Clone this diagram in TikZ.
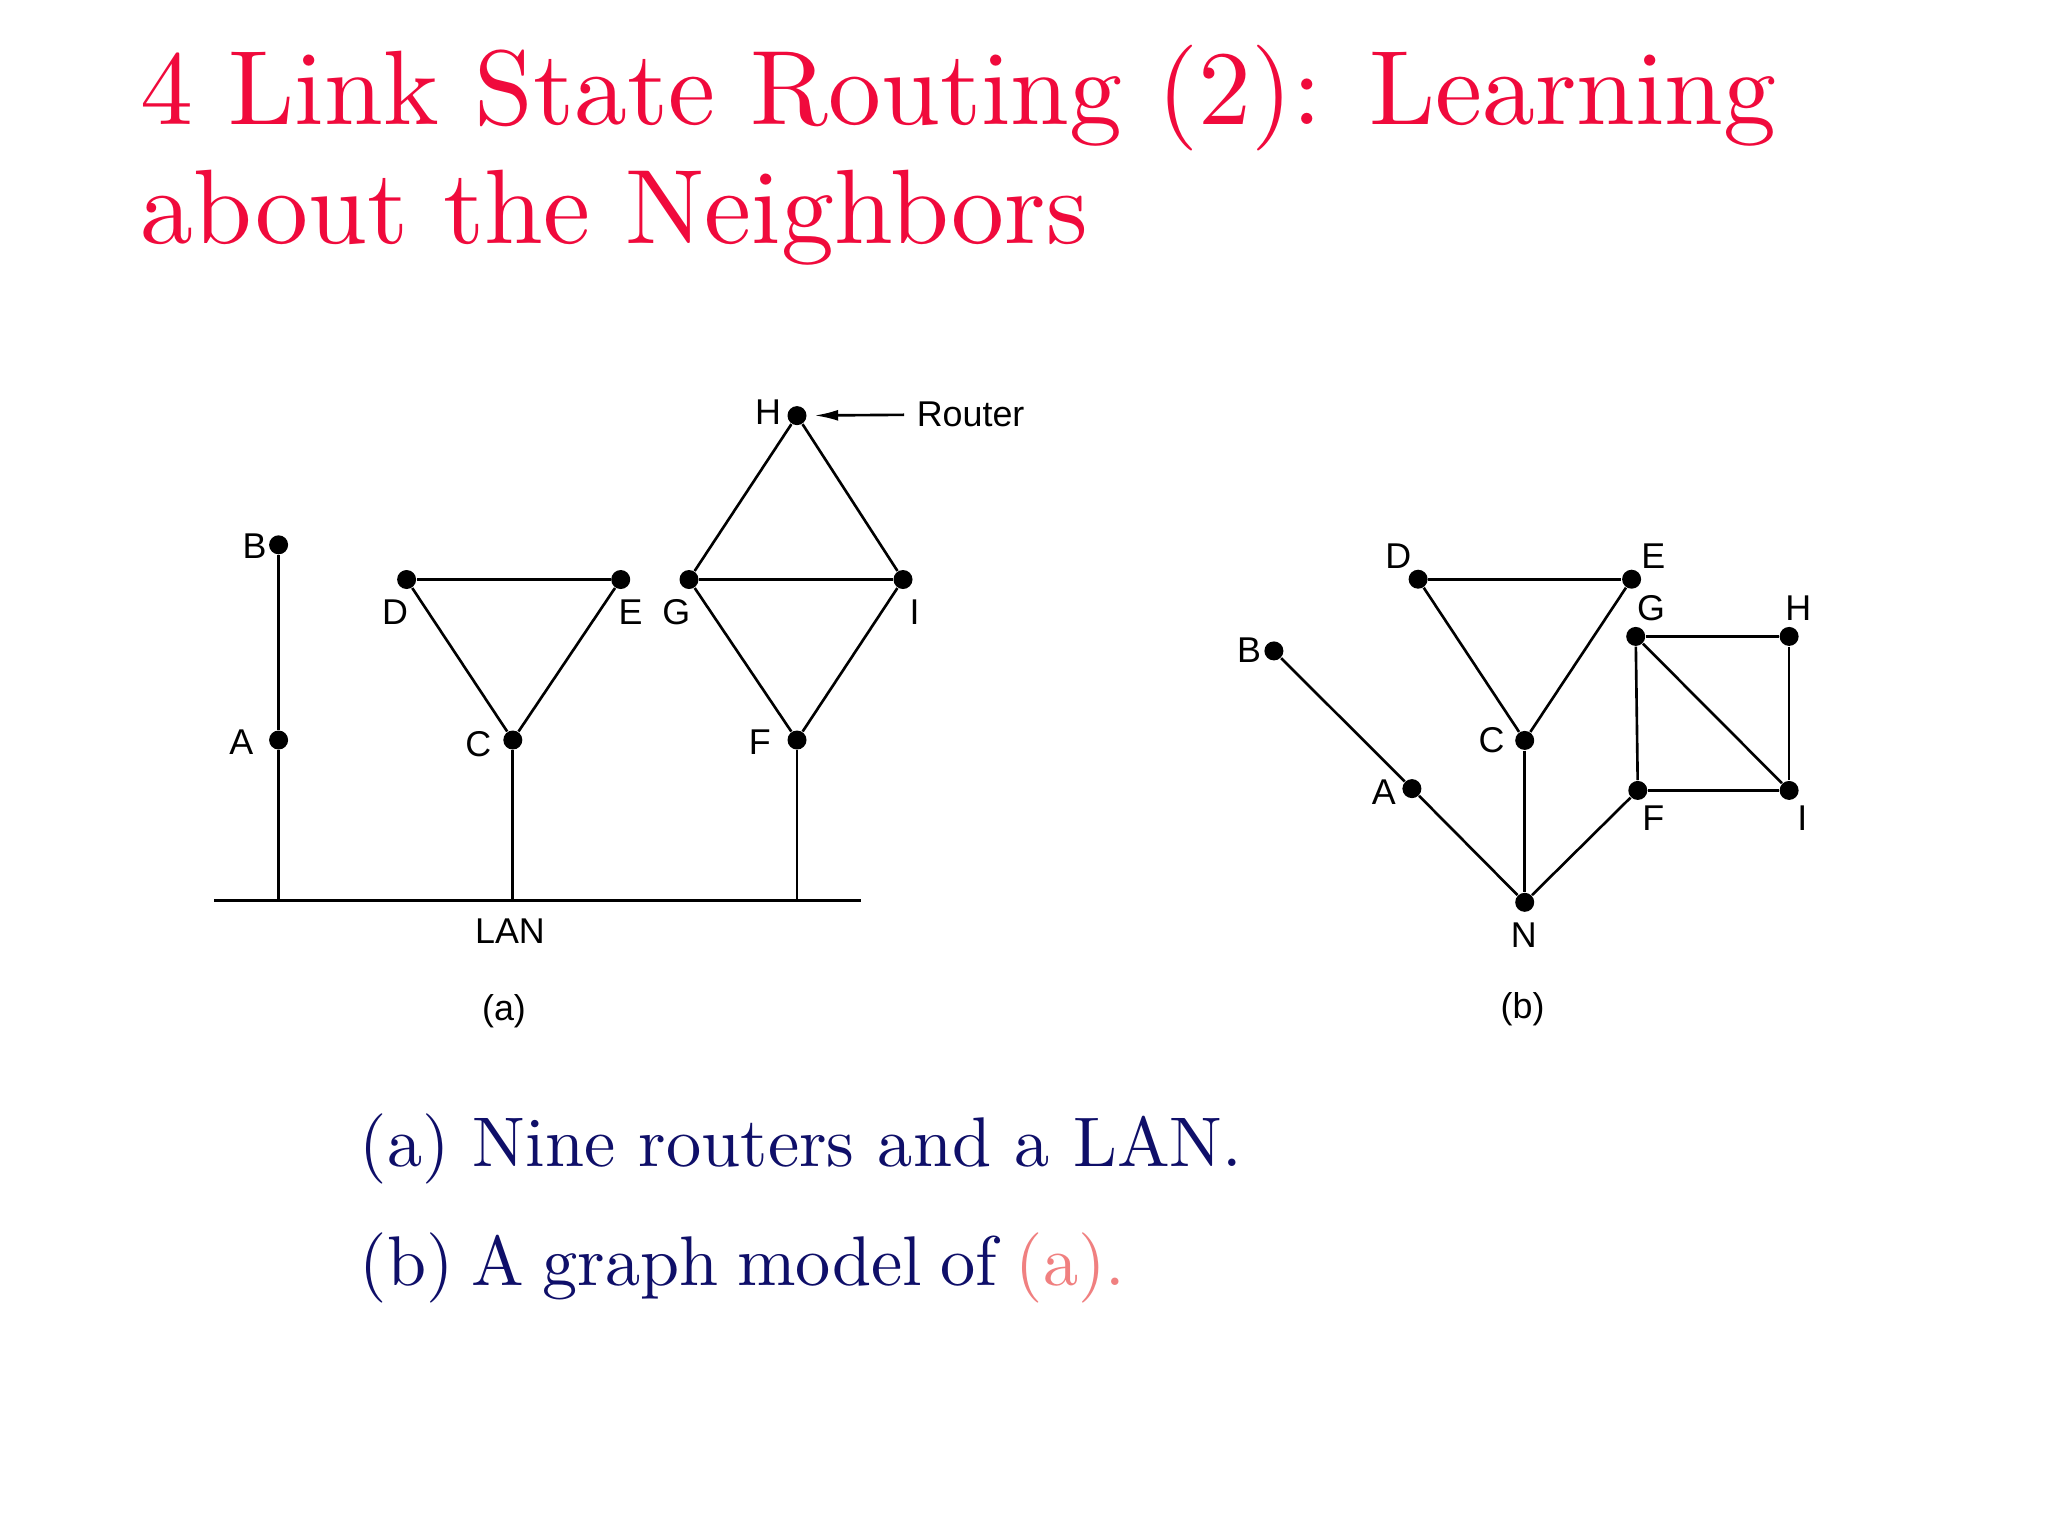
\documentclass[tikz,border=0pt]{standalone}
\usepackage{fontspec}
\newfontfamily\labfont{Liberation Sans}
\newfontfamily\tenfont{lmroman10-regular}[Extension=.otf]
\usetikzlibrary{arrows.meta}
\definecolor{titlered}{RGB}{240,10,60}
\definecolor{navy}{RGB}{15,15,105}
\definecolor{pinkish}{RGB}{240,128,128}
\begin{document}
\begin{tikzpicture}[x=0.1mm,y=-0.1mm,
  router/.style={circle,fill=black,inner sep=0,minimum size=1.9mm},
  lab/.style={inner sep=0,font=\labfont\fontsize{10.2}{12}\selectfont},
  wire/.style={line width=0.75pt},
  titletext/.style={inner sep=0,anchor=base west,text=titlered,font=\tenfont\fontsize{30.1}{36}\selectfont},
  bodytext/.style={inner sep=0,anchor=base west,text=navy,font=\tenfont\fontsize{20}{24}\selectfont}]
\useasboundingbox[fill=white] (0,0) rectangle (2048,1536);

% title
\node[titletext] (t1) at (140,124) {4 Link State Routing (2): Learning};
\node[titletext] (t2) at (140,243) {about the Neighbors};

% ---------- (a) ----------
\node[router] (aB) at (278.6,544.8) {};
\node[router] (aA) at (278.6,740) {};
\node[router] (aD) at (406.6,579.5) {};
\node[router] (aE) at (620.7,579.5) {};
\node[router] (aC) at (512.8,740) {};
\node[router] (aG) at (689,579.5) {};
\node[router] (aI) at (903,579.5) {};
\node[router] (aF) at (797,740) {};
\node[router] (aH) at (797,415.6) {};
\coordinate (lanL) at (214.4,900.4);
\coordinate (lanR) at (861.2,900.4);
\coordinate (lanA) at (278.6,900.4);
\coordinate (lanC) at (512.8,900.4);
\coordinate (lanF) at (797,900.4);

\draw[wire] (lanL) -- (lanR);
\draw[wire] (aB) -- (aA);
\draw[wire] (aA) -- (lanA);
\draw[wire] (aD) -- (aE);
\draw[wire] (aD) -- (aC);
\draw[wire] (aE) -- (aC);
\draw[wire] (aC) -- (lanC);
\draw[wire] (aH) -- (aG);
\draw[wire] (aH) -- (aI);
\draw[wire] (aG) -- (aI);
\draw[wire] (aG) -- (aF);
\draw[wire] (aI) -- (aF);
\draw[wire] (aF) -- (lanF);

\node[lab] (laB) at (254.5,546) {B};
\node[lab] (laA) at (241.3,742) {A};
\node[lab] (laD) at (395,612) {D};
\node[lab] (laE) at (630.5,612) {E};
\node[lab] (laG) at (676.4,612) {G};
\node[lab] (laI) at (914.6,612) {I};
\node[lab] (laC) at (478.4,744) {C};
\node[lab] (laF) at (759.7,742) {F};
\node[lab] (laH) at (768,412.5) {H};
\node[lab] (router) at (970.6,414.7) {Router};
\node[lab] (lan) at (510,931) {LAN};
\node[lab] (capa) at (504,1011) {(a)};
\draw[wire,-{Latex[length=2.4mm,width=1.1mm]},shorten <=1.2mm,shorten >=0.7mm] (router.west) -- (aH);

% ---------- (b) ----------
\node[router] (bD) at (1418.1,579.2) {};
\node[router] (bE) at (1631.6,579.2) {};
\node[router] (bB) at (1273.9,650.9) {};
\node[router] (bG) at (1635.7,636.4) {};
\node[router] (bH) at (1789.1,636.4) {};
\node[router] (bC) at (1524.7,740.4) {};
\node[router] (bA) at (1411.9,788.6) {};
\node[router] (bF) at (1637.8,790.4) {};
\node[router] (bI) at (1789.1,790.4) {};
\node[router] (bN) at (1524.7,902.3) {};

\draw[wire] (bB) -- (bA);
\draw[wire] (bA) -- (bN);
\draw[wire] (bC) -- (bN);
\draw[wire] (bF) -- (bN);
\draw[wire] (bD) -- (bE);
\draw[wire] (bD) -- (bC);
\draw[wire] (bE) -- (bC);
\draw[wire] (bG) -- (bH);
\draw[wire] (bG) -- (bF);
\draw[wire] (bG) -- (bI);
\draw[wire] (bH) -- (bI);
\draw[wire] (bF) -- (bI);

\node[lab] (lbD) at (1398.2,556.2) {D};
\node[lab] (lbE) at (1653.2,556.2) {E};
\node[lab] (lbG) at (1651.1,607.8) {G};
\node[lab] (lbH) at (1798.2,607.8) {H};
\node[lab] (lbB) at (1249,650.2) {B};
\node[lab] (lbC) at (1491.5,740.4) {C};
\node[lab] (lbA) at (1383.7,792) {A};
\node[lab] (lbF) at (1653.2,817.9) {F};
\node[lab] (lbI) at (1802.4,817.9) {I};
\node[lab] (lbN) at (1523.8,935) {N};
\node[lab] (capb) at (1522.6,1009) {(b)};

% captions
\node[bodytext] (c1) at (359,1166) {(a) Nine routers and a LAN.};
\node[bodytext] (c2) at (359,1285) {\spaceskip=5.2pt\relax(b) A graph model of \textcolor{pinkish}{(a).}};
\end{tikzpicture}
\end{document}
